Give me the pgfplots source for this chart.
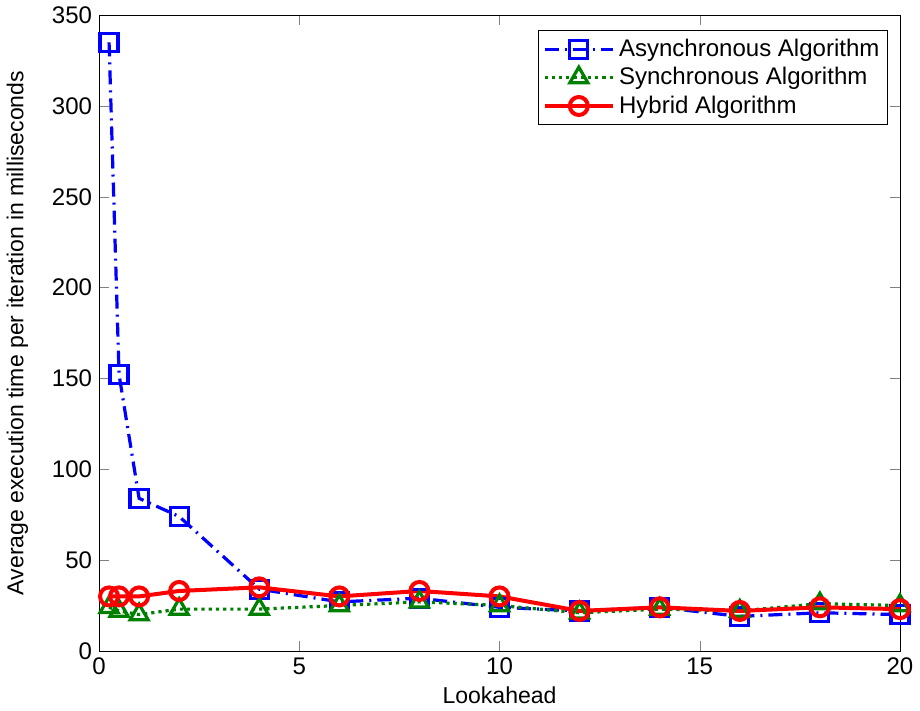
\documentclass[border=0pt]{standalone}
\usepackage{pgfplots}
\pgfplotsset{compat=1.18}
\usepackage{fontspec}
\setmainfont{Liberation Sans}
\definecolor{mgreen}{rgb}{0,0.5,0}
\begin{document}
\begin{tikzpicture}
\begin{axis}[
  scale only axis,
  width=400pt, height=317.5pt,
  xmin=0, xmax=20, ymin=0, ymax=350,
  xtick={0,5,10,15,20},
  ytick={0,50,100,150,200,250,300,350},
  tick align=inside,
  tick pos=both,
  major tick length=5pt,
  /pgf/number format/assume math mode=true,
  tick label style={font=\fontsize{12}{14}\selectfont},
  label style={font=\fontsize{11.5}{13}\selectfont},
  xlabel={Lookahead},
  ylabel={Average execution time per iteration in milliseconds},
  xlabel style={yshift=1pt},
  ylabel style={yshift=5pt},
  legend style={at={(0.985,0.976)}, anchor=north east, font=\fontsize{12}{14}\selectfont, draw=black, row sep=0pt, inner sep=2pt, line width=0.5pt},
  legend cell align=left,
  legend image code/.code={%
    \draw[mark repeat=2,mark phase=2,#1] plot coordinates {(0cm,0cm) (0.6cm,0cm) (1.2cm,0cm)};},
  every axis plot/.append style={line width=1.6pt},
]
\addplot[blue, dash pattern=on 7pt off 3pt on 1pt off 3pt, mark=square, mark size=4.5pt, mark options={solid}]
coordinates {(0.25,335) (0.5,152) (1,84) (2,74) (4,34) (6,27) (8,29) (10,24) (12,22) (14,24) (16,19) (18,21) (20,20)};
\addlegendentry{Asynchronous Algorithm}
\addplot[mgreen, dotted, mark=triangle, mark size=5.2pt, mark options={solid}]
coordinates {(0.25,24) (0.5,22) (1,20) (2,23) (4,23) (6,25) (8,27) (10,25) (12,21) (14,23) (16,22) (18,26) (20,25)};
\addlegendentry{Synchronous Algorithm}
\addplot[red, line width=2pt, mark=o, mark size=4.5pt, mark options={solid}]
coordinates {(0.25,30) (0.5,30) (1,30) (2,33) (4,35) (6,30) (8,33) (10,30) (12,22) (14,24) (16,22) (18,24) (20,23)};
\addlegendentry{Hybrid Algorithm}
\end{axis}
\end{tikzpicture}
\end{document}
